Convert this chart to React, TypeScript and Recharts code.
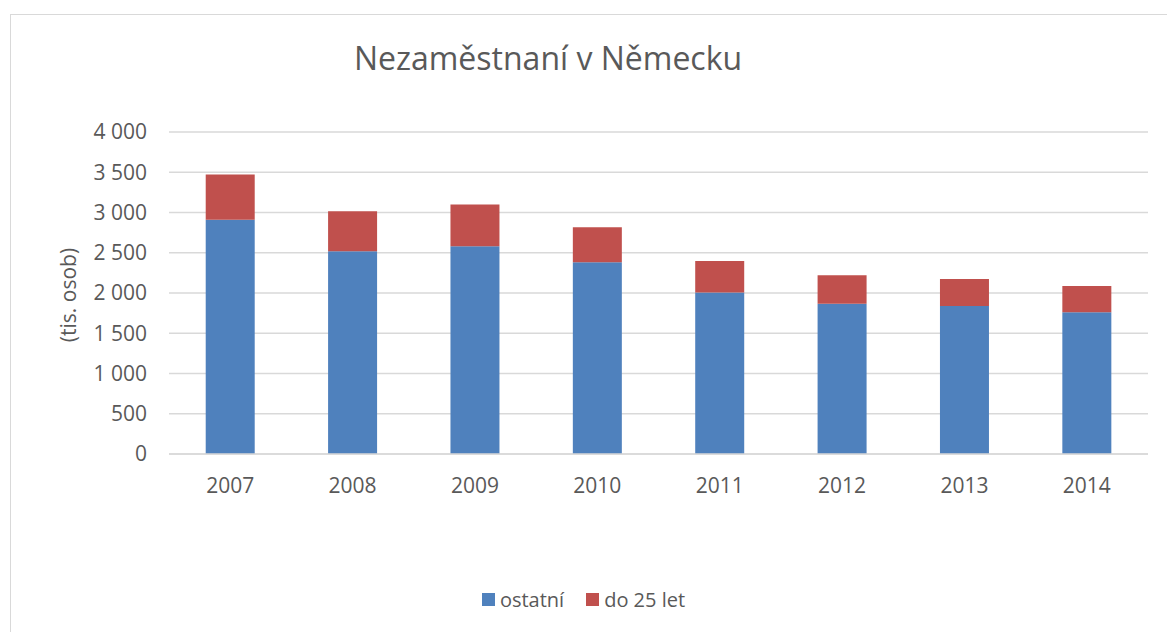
import React from 'react';
import { BarChart, Bar, XAxis, YAxis, CartesianGrid, Legend } from 'recharts';

const years = ['2007', '2008', '2009', '2010', '2011', '2012', '2013', '2014'];
const ostatni = [2909, 2518, 2580, 2382, 2005, 1865, 1840, 1760];
const do25 = [563, 498, 519, 435, 394, 355, 335, 328];
const yTicks = [0, 500, 1000, 1500, 2000, 2500, 3000, 3500, 4000];

const data = years.map((year, i) => ({ year, ostatni: ostatni[i], do25: do25[i] }));

const FONT = '"Open Sans", sans-serif';
const TEXT = '#595959';

const fmt = (v: number) => (v >= 1000 ? `${Math.floor(v / 1000)} ${String(v % 1000).padStart(3, '0')}` : String(v));

function LegendContent() {
  const items = [
    { label: 'ostatní', color: '#4f81bd' },
    { label: 'do 25 let', color: '#c0504d' },
  ];
  return (
    <div style={{ display: 'flex', justifyContent: 'center', alignItems: 'center', fontFamily: FONT, fontSize: 20, color: TEXT }}>
      {items.map((it, i) => (
        <div key={it.label} style={{ display: 'flex', alignItems: 'center', marginRight: i === 0 ? 22 : 0 }}>
          <span style={{ width: 13, height: 13, background: it.color, display: 'inline-block', marginRight: 5 }} />
          <span>{it.label}</span>
        </div>
      ))}
    </div>
  );
}

export default function App() {
  return (
    <div style={{ position: 'absolute', left: 0, top: 0, width: 1167, height: 632, background: '#fff', overflow: 'hidden' }}>
      <div style={{ position: 'absolute', left: 10, top: 14, width: 1170, height: 640, border: '1px solid #d9d9d9', boxSizing: 'border-box' }} />
      <BarChart
        width={1167}
        height={632}
        data={data}
        margin={{ top: 132, right: 19, bottom: 148, left: 89 }}
        barCategoryGap="30%"
        style={{ position: 'absolute', left: 0, top: 0 }}
      >
        <CartesianGrid vertical={false} stroke="#d9d9d9" strokeWidth={1.5} />
        <XAxis
          dataKey="year"
          height={30}
          axisLine={{ stroke: '#d9d9d9', strokeWidth: 1.5 }}
          tickLine={false}
          tickSize={0}
          tickMargin={24}
          tick={{ fontFamily: FONT, fontSize: 21, fill: TEXT }}
        />
        <YAxis
          width={80}
          domain={[0, 4000]}
          ticks={yTicks}
          axisLine={false}
          tickLine={false}
          tickSize={0}
          tickMargin={22}
          tickFormatter={fmt}
          tick={{ fontFamily: FONT, fontSize: 21, fill: TEXT }}
        />
        <Legend
          verticalAlign="middle"
          align="center"
          content={<LegendContent />}
          wrapperStyle={{ top: 586, left: 0, width: 1167 }}
        />
        <Bar dataKey="ostatni" name="ostatní" stackId="a" fill="#4f81bd" isAnimationActive={false} />
        <Bar dataKey="do25" name="do 25 let" stackId="a" fill="#c0504d" isAnimationActive={false} />
      </BarChart>
      <svg width={1167} height={632} style={{ position: 'absolute', left: 0, top: 0, pointerEvents: 'none' }}>
        <text x={548} y={70} textAnchor="middle" fontFamily={FONT} fontSize={32} fill={TEXT}>
          Nezaměstnaní v Německu
        </text>
        <text
          x={0}
          y={0}
          transform="translate(68,295) rotate(-90)"
          textAnchor="middle"
          dominantBaseline="central"
          fontFamily={FONT}
          fontSize={21}
          fill={TEXT}
        >
          (tis. osob)
        </text>
      </svg>
    </div>
  );
}
